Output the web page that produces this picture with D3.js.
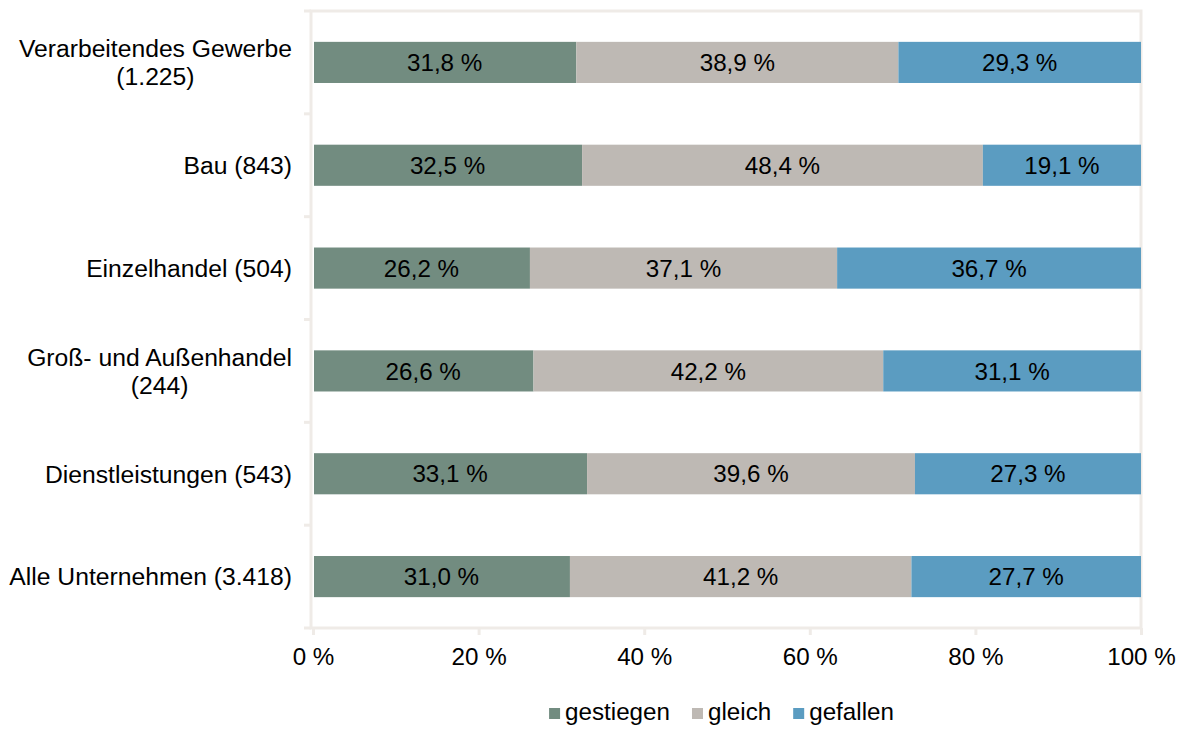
<!DOCTYPE html>
<html><head><meta charset="utf-8">
<script src="https://cdn.jsdelivr.net/npm/d3@7"></script>
<style>
html,body{margin:0;padding:0;background:#fff;}
svg text{font-family:"Liberation Sans",Arial,sans-serif;fill:#000;}
</style></head>
<body><svg id="chart" width="1184" height="731"></svg>
<script>
const categories = [["Verarbeitendes Gewerbe","(1.225)"],["Bau (843)"],["Einzelhandel (504)"],["Groß- und Außenhandel","(244)"],["Dienstleistungen (543)"],["Alle Unternehmen (3.418)"]];
const seriesNames = ["gestiegen","gleich","gefallen"];
const gestiegen = [31.8,32.5,26.2,26.6,33.1,31.0];
const gleich    = [38.9,48.4,37.1,42.2,39.6,41.2];
const gefallen  = [29.3,19.1,36.7,31.1,27.3,27.7];
const xTicks = [0,20,40,60,80,100];
const colors = ["#728c80","#beb9b4","#5b9cc1"];

const svg = d3.select("#chart");
const fs = 24.2;
const fsCat = 24.7;
const x = d3.scaleLinear().domain([0,100]).range([313,1141]);
const y = d3.scaleBand().domain(d3.range(categories.length)).range([11,628]).paddingInner(0.6).paddingOuter(0.3);
const border = "#efebe7";

const rows = categories.map((c,i)=>{
  const vals=[gestiegen[i],gleich[i],gefallen[i]];
  const tot=d3.sum(vals);
  let acc=0;
  return vals.map((v,k)=>{const s=acc; acc+=v/tot*100; return {i,k,v,x0:s,x1:acc};});
});

// frame
svg.append("rect").attr("x",x(0)-2).attr("y",11).attr("width",x(100)-x(0)+2).attr("height",617)
  .attr("fill","none").attr("stroke",border).attr("stroke-width",3);
// y ticks at band boundaries
const step=y.step();
const bounds=d3.range(categories.length+1).map(j=>11+j*step);
svg.selectAll("line.yt").data(bounds).join("line").attr("class","yt")
  .attr("x1",304).attr("x2",x(0)-2).attr("y1",d=>d).attr("y2",d=>d)
  .attr("stroke",border).attr("stroke-width",3);

// x axis
const xa = svg.append("g").attr("transform","translate(0,628)")
  .call(d3.axisBottom(x).tickValues(xTicks).tickFormat(d=>d+" %").tickSize(7).tickPadding(13));
xa.select(".domain").remove();
xa.selectAll(".tick line").attr("stroke",border).attr("stroke-width",3);
xa.selectAll(".tick text").attr("font-size",fs).attr("fill","#000").style("font-family","Liberation Sans, Arial, sans-serif");

// bars
const g = svg.append("g");
rows.forEach(r=>{
  g.selectAll(null).data(r).join("rect")
    .attr("x",d=>x(d.x0)+(d.k===0?1:0)).attr("width",d=>x(d.x1)-x(d.x0)-(d.k===0?1:0))
    .attr("y",d=>y(d.i)).attr("height",y.bandwidth())
    .attr("fill",d=>colors[d.k]);
  g.selectAll(null).data(r).join("text")
    .attr("x",d=>(x(d.x0)+x(d.x1))/2).attr("y",d=>y(d.i)+y.bandwidth()/2)
    .attr("dy","0.36em").attr("text-anchor","middle").attr("font-size",fs)
    .text(d=>d.v.toFixed(1).replace(".",",")+" %");
});

// y labels
categories.forEach((lines,i)=>{
  const cy=y(i)+y.bandwidth()/2;
  const lh=28;
  const t=svg.append("text").attr("font-size",fsCat).attr("text-anchor","middle");
  const tsp=lines.map((l,j)=>t.append("tspan").attr("y",cy+(j-(lines.length-1)/2)*lh).attr("dy","0.36em").text(l));
  const w=d3.max(tsp,s=>s.node().getComputedTextLength());
  tsp.forEach(s=>s.attr("x",292-w/2));
});

// legend
const lg=svg.append("g");
let lx=0;
seriesNames.forEach((n,k)=>{
  const it=lg.append("g");
  it.append("rect").attr("x",lx).attr("y",-11).attr("width",11).attr("height",11).attr("fill",colors[k]);
  const t=it.append("text").attr("x",lx+16).attr("y",0).attr("dy","0.05em").attr("font-size",fs).text(n);
  const w=t.node().getComputedTextLength();
  lx+=16+w+22;
});
lx-=22;
lg.attr("transform",`translate(${721.5-lx/2},719)`);
</script></body></html>
